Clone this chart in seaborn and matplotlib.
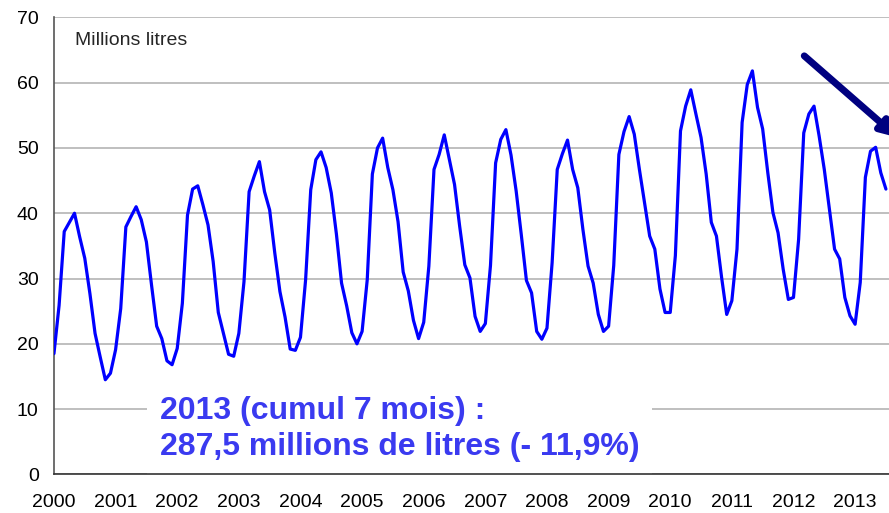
import numpy as np
import pandas as pd
import matplotlib
matplotlib.use('Agg')
import matplotlib.pyplot as plt
import seaborn as sns

# monthly volumes, millions of litres
v2000 = [18.5, 25.9, 37.2, 38.6, 40.0, 36.4, 33.1, 27.7, 21.6, 18.0, 14.5, 15.5]
v2001 = [19.1, 25.4, 37.9, 39.5, 41.0, 39.0, 35.6, 29.0, 22.7, 20.8, 17.4, 16.8]
v2002 = [19.3, 26.2, 39.7, 43.7, 44.2, 41.3, 38.2, 32.6, 24.8, 21.6, 18.4, 18.1]
v2003 = [21.6, 29.5, 43.3, 45.7, 47.9, 43.3, 40.5, 33.9, 28.0, 24.1, 19.2, 19.0]
v2004 = [21.0, 29.8, 43.6, 48.2, 49.4, 47.0, 43.1, 36.8, 29.3, 25.8, 21.7, 20.0]
v2005 = [21.9, 29.8, 46.0, 50.0, 51.5, 47.0, 43.6, 38.7, 31.0, 28.1, 23.6, 20.8]
v2006 = [23.3, 31.9, 46.7, 49.0, 52.0, 48.2, 44.4, 38.0, 32.1, 30.1, 24.2, 21.9]
v2007 = [23.1, 32.0, 47.7, 51.3, 52.8, 48.9, 43.4, 36.7, 29.7, 27.8, 21.9, 20.7]
v2008 = [22.4, 32.4, 46.7, 49.1, 51.2, 46.7, 43.9, 37.5, 31.9, 29.3, 24.5, 21.9]
v2009 = [22.7, 32.0, 49.0, 52.5, 54.8, 52.1, 46.7, 41.6, 36.5, 34.5, 28.4, 24.8]
v2010 = [24.8, 33.5, 52.6, 56.4, 58.9, 55.2, 51.6, 46.0, 38.6, 36.5, 30.2, 24.5]
v2011 = [26.6, 34.5, 53.9, 59.7, 61.8, 56.2, 52.9, 46.2, 40.1, 37.0, 31.4, 26.8]
v2012 = [27.1, 36.0, 52.3, 55.2, 56.4, 51.8, 46.7, 40.6, 34.5, 33.0, 27.1, 24.3]
v2013 = [23.0, 29.4, 45.5, 49.5, 50.1, 46.2, 43.7]

years = [str(y) for y in range(2000, 2014)]
values = (v2000 + v2001 + v2002 + v2003 + v2004 + v2005 + v2006 + v2007
          + v2008 + v2009 + v2010 + v2011 + v2012 + v2013)

df = pd.DataFrame({'month': np.arange(len(values)), 'volume': values})

sns.set_style('white')
plt.rcParams['font.family'] = ['Liberation Sans', 'DejaVu Sans']

fig = plt.figure(figsize=(8.89, 5.13), dpi=100)
ax = fig.add_axes([0.0607, 0.0752, 0.9393, 0.8910])

sns.lineplot(data=df, x='month', y='volume', color='#0000FF', lw=2.3, ax=ax, zorder=3)

ax.set_xlim(0, 162.6)
ax.set_ylim(0, 70)
ax.set_yticks(range(0, 71, 10))
ax.set_xticks(range(0, 12 * len(years), 12))
ax.set_xticklabels(years)
ax.set_xlabel('')
ax.set_ylabel('')

ax.set_axisbelow(True)
ax.yaxis.grid(True, color='#B4B4B4', lw=1.2)
ax.xaxis.grid(False)
for s in ['top', 'right']:
    ax.spines[s].set_visible(False)
ax.spines['left'].set_color('#555555')
ax.spines['bottom'].set_color('#333333')
ax.spines['left'].set_linewidth(1.2)
ax.spines['bottom'].set_linewidth(1.2)
ax.tick_params(axis='both', direction='out', length=5, width=1, color='#555555',
               labelsize=14, labelcolor='black', pad=6)
ax.tick_params(axis='x', pad=9)

ax.text(4, 66.5, 'Millions litres', fontsize=14, va='center', ha='left')

ax.text(20.6, 12.0, '2013 (cumul 7 mois) :\n287,5 millions de litres (- 11,9%)',
        fontsize=23, fontweight='bold', color='#3A3AF0', va='top', ha='left',
        linespacing=1.25, zorder=2,
        bbox=dict(boxstyle='square,pad=0.4', facecolor='white', edgecolor='none'))

ax.annotate('', xy=(164.3, 51.6), xytext=(146.1, 64.1), annotation_clip=False,
            arrowprops=dict(arrowstyle='-|>', lw=5, color='#000080',
                            mutation_scale=24, shrinkA=0, shrinkB=0))

fig.savefig('out.png', dpi=100)
